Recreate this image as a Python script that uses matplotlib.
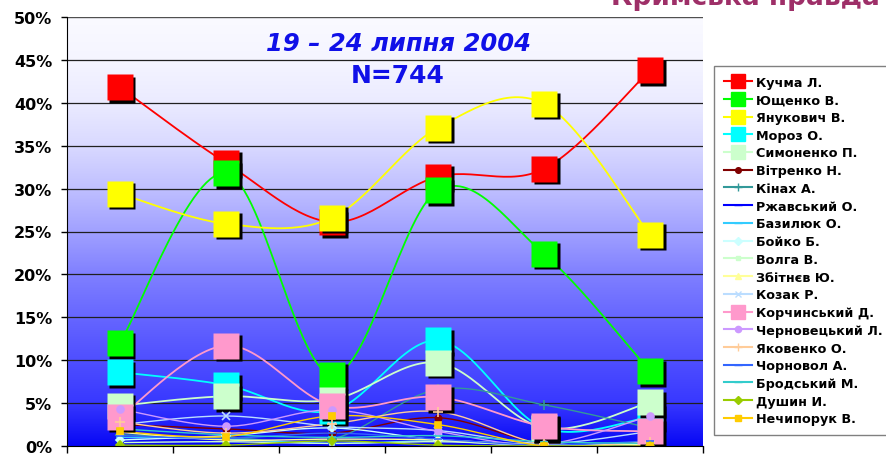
import numpy as np
import matplotlib
matplotlib.use("Agg")
import matplotlib.pyplot as plt
from matplotlib.colors import LinearSegmentedColormap
from matplotlib.lines import Line2D
from matplotlib.ticker import PercentFormatter, FixedLocator
import matplotlib.transforms as mtransforms

plt.rcParams['font.family'] = ['DejaVu Sans']

waves = ['1', '2', '3', '4', '5', '6']

names = ['Кучма Л.', 'Ющенко В.', 'Янукович В.', 'Мороз О.', 'Симоненко П.',
         'Вітренко Н.', 'Кінах А.', 'Ржавський О.', 'Базилюк О.', 'Бойко Б.',
         'Волга В.', 'Збітнєв Ю.', 'Козак Р.', 'Корчинський Д.', 'Черновецький Л.',
         'Яковенко О.', 'Чорновол А.', 'Бродський М.', 'Душин И.', 'Нечипорук В.']

kuchma      = [41.8, 33.0, 26.1, 31.4, 32.3, 43.8]
yushchenko  = [12.0, 31.8, 8.3, 29.8, 22.4, 8.7]
yanukovych  = [29.4, 25.9, 26.6, 37.1, 39.9, 24.6]
moroz       = [8.6, 7.1, 4.1, 12.3, 2.1, 3.4]
symonenko   = [4.7, 5.8, 5.4, 9.7, 2.1, 5.1]
vitrenko    = [2.5, 2.0, 1.5, 3.3, 0.3, 0.5]
kinakh      = [1.3, 1.0, 0.8, 6.6, 4.8, 2.1]
rzhavsky    = [0.5, 0.3, 0.4, 0.5, 0.1, 0.3]
bazyliuk    = [1.0, 0.8, 0.3, 0.6, 0.2, 0.2]
boyko       = [0.7, 1.2, 2.1, 0.7, 0.1, 0.3]
volha       = [0.4, 0.5, 0.3, 0.5, 0.1, 0.2]
zbitnev     = [1.6, 0.7, 0.8, 0.7, 0.1, 0.3]
kozak       = [2.5, 3.5, 2.3, 1.8, 0.3, 1.7]
korchynsky  = [3.4, 11.7, 4.7, 5.7, 2.3, 1.7]
chernovetsky= [4.3, 2.3, 4.2, 1.7, 0.2, 3.5]
yakovenko   = [2.8, 1.5, 2.6, 4.0, 0.2, 0.5]
chornovol   = [1.2, 0.9, 1.5, 0.8, 0.1, 0.6]
brodsky     = [2.0, 1.3, 1.0, 1.2, 0.5, 0.3]
dushyn      = [0.1, 0.1, 0.6, 0.1, 0.0, 0.0]
nechyporuk  = [1.7, 1.1, 3.5, 2.5, 0.0, 0.0]

series = [kuchma, yushchenko, yanukovych, moroz, symonenko, vitrenko, kinakh,
          rzhavsky, bazyliuk, boyko, volha, zbitnev, kozak, korchynsky,
          chernovetsky, yakovenko, chornovol, brodsky, dushyn, nechyporuk]

colors = ['#FF0000', '#00FF00', '#FFFF00', '#00FFFF', '#CCFFCC', '#800000',
          '#339999', '#0000FF', '#33CCFF', '#CCFFFF', '#CCFFCC', '#FFFF99',
          '#BBDDFF', '#FF99CC', '#CC99FF', '#FFCC99', '#3366FF', '#33CCCC',
          '#99CC00', '#FFCC00']
markers = ['s', 's', 's', 's', 's', 'o', '+', '_', '_', 'D', 's', '^', 'x', 's',
           'o', '+', '_', '_', 'D', 's']
big = [True, True, True, True, True, False, False, False, False, False, False,
       False, False, True, False, False, False, False, False, False]
small_ms = [0, 0, 0, 0, 0, 4.5, 7, 6, 6, 4, 3.5, 4.5, 5.5, 0, 5, 7, 6, 6, 4, 5]


def smooth(x, y, n=30):
    pts = np.column_stack([x, y]).astype(float)
    P = np.vstack([pts[0], pts, pts[-1]])
    out = []
    t = np.linspace(0, 1, n)[:, None]
    for i in range(len(pts) - 1):
        p0, p1, p2, p3 = P[i], P[i + 1], P[i + 2], P[i + 3]
        c1 = p1 + (p2 - p0) / 6.0
        c2 = p2 - (p3 - p1) / 6.0
        b = (1 - t) ** 3 * p1 + 3 * (1 - t) ** 2 * t * c1 + 3 * (1 - t) * t ** 2 * c2 + t ** 3 * p2
        out.append(b if i == 0 else b[1:])
    return np.vstack(out)


W, H = 887, 456
fig = plt.figure(figsize=(W / 100, H / 100), dpi=100)
fig.patch.set_facecolor('white')
ax = fig.add_axes([67 / W, 9 / H, (703 - 67) / W, (447 - 18) / H])

xs = np.arange(len(waves))
ax.set_xlim(-0.5, len(waves) - 0.5)
ax.set_ylim(0, 50)

# gradient background
nodes = [(0.0, 0.03), (0.1, 0.22), (0.2, 0.31), (0.3, 0.40), (0.4, 0.50),
         (0.5, 0.63), (0.6, 0.75), (0.7, 0.85), (0.8, 0.92), (0.9, 0.96), (1.0, 0.98)]
cmap = LinearSegmentedColormap.from_list(
    'bg', [(p, (v, v, min(1.0, 0.93 + v))) for p, v in nodes])
grad = np.linspace(0, 1, 256)[:, None]
ax.imshow(grad, extent=[-0.5, len(waves) - 0.5, 0, 50], origin='lower',
          aspect='auto', cmap=cmap, zorder=0)

for yv in range(5, 50, 5):
    ax.axhline(yv, color='#202020', lw=0.9, zorder=1)
ax.axhline(50, color='#505050', lw=1.0, zorder=1)

# lines
for i, (s, c) in enumerate(zip(series, colors)):
    sm = smooth(xs, s)
    lw = 1.3 if big[i] else 1.0
    ax.plot(sm[:, 0], sm[:, 1], color=c, lw=lw, zorder=2 + i * 0.01,
            solid_capstyle='round')

# markers
shadow_tr = mtransforms.offset_copy(ax.transData, fig=fig, x=2.5, y=-2.5, units='dots')
for i, (s, c, m) in enumerate(zip(series, colors, markers)):
    z = 4 + i * 0.1
    if big[i]:
        ax.plot(xs, s, ls='none', marker='s', ms=19, mfc='black', mec='none',
                transform=shadow_tr, zorder=z)
        ax.plot(xs, s, ls='none', marker='s', ms=19, mfc=c, mec='none', zorder=z + 0.05)
    else:
        ax.plot(xs, s, ls='none', marker=m, ms=small_ms[i], mfc=c, mec=c,
                mew=1.2, zorder=z + 0.05)

# axes styling
for sp in ['top', 'right']:
    ax.spines[sp].set_visible(False)
ax.spines['left'].set_color('black')
ax.spines['bottom'].set_color('black')
ax.spines['left'].set_zorder(10)
ax.spines['bottom'].set_zorder(10)
ax.set_yticks(np.arange(0, 51, 5))
ax.yaxis.set_major_formatter(PercentFormatter(decimals=0))
ax.tick_params(axis='y', direction='out', length=4.5, width=1, pad=6,
               labelsize=11.5, colors='black')
for lab in ax.get_yticklabels():
    lab.set_fontweight('bold')
ax.xaxis.set_major_locator(FixedLocator(np.arange(-0.5, len(waves), 1.0)))
ax.tick_params(axis='x', direction='out', length=5, width=1, labelbottom=False)

# titles
fig.text(399 / W, 1 - 44 / H, '19 – 24 липня 2004', ha='center', va='center',
         color='#1010E8', fontsize=17.5, fontweight='bold', fontstyle='italic')
fig.text(398 / W, 1 - 76 / H, 'N=744', ha='center', va='center',
         color='#1010E8', fontsize=18, fontweight='bold')
fig.text(745 / W, 1 - 5 / H, 'Кримська правда', ha='center', va='baseline',
         color='#9E2F68', fontsize=19, fontweight='bold')

# legend
handles = []
for i, (c, m) in enumerate(zip(colors, markers)):
    if big[i]:
        handles.append(Line2D([], [], color=c, lw=1.5, marker='s', ms=10, mfc=c, mec=c))
    else:
        handles.append(Line2D([], [], color=c, lw=1.5, marker=m, ms=small_ms[i] * 0.9,
                              mfc=c, mec=c, mew=1.0))
leg = fig.legend(handles, names, loc='upper left', bbox_to_anchor=(714 / W, 1 - 67 / H),
                 frameon=True, fancybox=False, edgecolor='#808080', framealpha=1,
                 prop={'size': 9.2, 'weight': 'bold'}, handlelength=2.2,
                 handletextpad=0.3, labelspacing=0.37, borderpad=0.75,
                 borderaxespad=0)
leg.get_frame().set_linewidth(1.0)

fig.savefig('out.png', dpi=100)
